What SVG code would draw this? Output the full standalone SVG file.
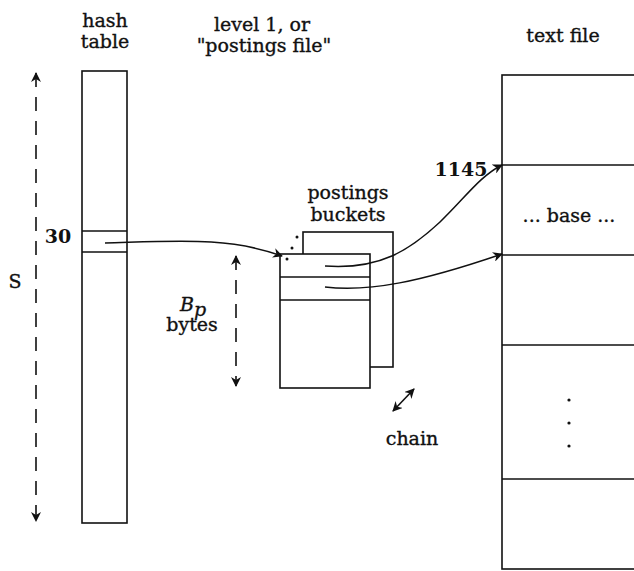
<svg xmlns="http://www.w3.org/2000/svg" width="634" height="571" viewBox="0 0 634 571">
<style>
text{font-family:"DejaVu Serif","Liberation Serif",serif;font-size:19px;fill:#111;stroke:#111;stroke-width:0.35}
.b{font-weight:bold;stroke-width:0}
.box{fill:#fff;stroke:#111;stroke-width:1.6}
.ln{stroke:#111;stroke-width:1.6;fill:none}
.dash{stroke:#111;stroke-width:1.6;fill:none;stroke-dasharray:14 10}
.cv{stroke:#111;stroke-width:1.5;fill:none}
</style>
<defs>
<marker id="ah" viewBox="0 0 10 10" refX="9" refY="5" markerWidth="10" markerHeight="10" markerUnits="userSpaceOnUse" orient="auto-start-reverse">
<path d="M0,0 L10,5 L0,10 L3,5 z" fill="#111"/>
</marker>
</defs>
<g id="labels">
<text x="105" y="27" text-anchor="middle">hash</text>
<text x="105" y="48" text-anchor="middle">table</text>
<text x="262" y="31" text-anchor="middle">level 1, or</text>
<text x="264" y="52" text-anchor="middle">"postings file"</text>
<text x="563" y="42" text-anchor="middle">text file</text>
<text x="15" y="288" text-anchor="middle" font-size="23">S</text>
</g>
<g id="hash-table">
<rect class="box" x="82" y="71" width="45" height="452"/>
<line class="ln" x1="82" y1="231" x2="127" y2="231"/>
<line class="ln" x1="82" y1="252" x2="127" y2="252"/>
<text class="b" x="58" y="243" text-anchor="middle">30</text>
</g>
<g id="postings-buckets">
<text x="348" y="199" text-anchor="middle">postings</text>
<text x="348" y="221" text-anchor="middle">buckets</text>
<rect class="box" x="303" y="232" width="90" height="135"/>
<rect class="box" x="280" y="254" width="90" height="134"/>
<line class="ln" x1="280" y1="277" x2="370" y2="277"/>
<line class="ln" x1="280" y1="300" x2="370" y2="300"/>
<circle cx="297" cy="237" r="1.5" fill="#111"/>
<circle cx="292" cy="248" r="1.5" fill="#111"/>
<circle cx="287" cy="259" r="1.5" fill="#111"/>
<text x="180" y="311" font-style="italic" font-size="24">B</text>
<text x="194" y="316" font-style="italic" font-size="13">p</text>
<text x="192" y="331" text-anchor="middle">bytes</text>
<text x="412" y="445" text-anchor="middle">chain</text>
</g>
<g id="text-file">
<rect class="box" x="502" y="75" width="200" height="494"/>
<line class="ln" x1="502" y1="165" x2="634" y2="165"/>
<line class="ln" x1="502" y1="255" x2="634" y2="255"/>
<line class="ln" x1="502" y1="345" x2="634" y2="345"/>
<line class="ln" x1="502" y1="479" x2="634" y2="479"/>
<text x="569" y="222" text-anchor="middle">... base ...</text>
<circle cx="569" cy="400" r="1.6" fill="#111"/>
<circle cx="569" cy="423" r="1.6" fill="#111"/>
<circle cx="569" cy="446" r="1.6" fill="#111"/>
<text class="b" x="461" y="176" text-anchor="middle">1145</text>
</g>
<g id="connectors">
<line class="dash" x1="36" y1="73" x2="36" y2="521" marker-start="url(#ah)" marker-end="url(#ah)"/>
<line class="dash" x1="236" y1="256" x2="236" y2="386" marker-start="url(#ah)" marker-end="url(#ah)"/>
<path class="cv" d="M105,243 C180,241 230,237 282,256" marker-end="url(#ah)"/>
<path class="cv" d="M325,266 C380,270 410,250 440,222 C465,198 480,176 502,165" marker-end="url(#ah)"/>
<path class="cv" d="M325,287 C370,292 420,282 502,254" marker-end="url(#ah)"/>
<line class="ln" x1="393" y1="411" x2="414" y2="389" marker-start="url(#ah)" marker-end="url(#ah)"/>
</g>
</svg>
